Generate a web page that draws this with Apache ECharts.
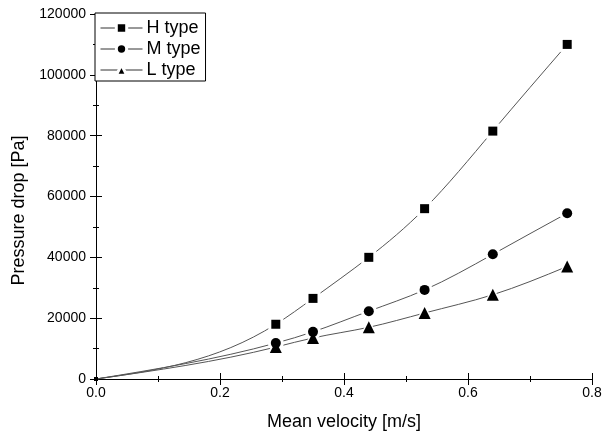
<!DOCTYPE html>
<html><head><meta charset="utf-8">
<script src="https://cdn.jsdelivr.net/npm/echarts@6/dist/echarts.min.js"></script>
<style>html,body{margin:0;padding:0;background:#fff}#c{width:614px;height:435px}</style>
</head><body><div id="c"></div>
<script>
const velocity = [0, 0.29, 0.35, 0.44, 0.53, 0.64, 0.76];
const hType = [0, 18000, 26500, 40000, 56000, 81500, 110000];
const mType = [0, 11800, 15500, 22300, 29300, 41000, 54500];
const lType = [0, 10500, 13500, 17000, 21700, 27700, 37000];
const seriesNames = ['H type', 'M type', 'L type'];
const xTicks = [0, 0.2, 0.4, 0.6, 0.8];
const yTicks = [0, 20000, 40000, 60000, 80000, 100000, 120000];

const font = 'Liberation Sans, Arial, sans-serif';

// Natural cubic spline through the data points, returned as Bezier segments in data space
function splineSegments(xs, ys){
  const n = xs.length, h = [], M = new Array(n).fill(0);
  for (let i=0;i<n-1;i++) h.push(xs[i+1]-xs[i]);
  const a=[],b=[],c=[],d=[];
  for (let i=1;i<n-1;i++){
    a.push(h[i-1]); b.push(2*(h[i-1]+h[i])); c.push(h[i]);
    d.push(6*((ys[i+1]-ys[i])/h[i]-(ys[i]-ys[i-1])/h[i-1]));
  }
  const m = b.length;
  for (let i=1;i<m;i++){ const w=a[i]/b[i-1]; b[i]-=w*c[i-1]; d[i]-=w*d[i-1]; }
  const sol = new Array(m);
  for (let i=m-1;i>=0;i--) sol[i]=(d[i]-(i<m-1?c[i]*sol[i+1]:0))/b[i];
  for (let i=0;i<m;i++) M[i+1]=sol[i];
  const segs=[];
  for (let i=0;i<n-1;i++){
    const hh=h[i], s=(ys[i+1]-ys[i])/hh;
    const d0 = s - hh*(2*M[i]+M[i+1])/6;
    const d1 = s + hh*(M[i]+2*M[i+1])/6;
    segs.push([[xs[i],ys[i]],[xs[i]+hh/3, ys[i]+d0*hh/3],[xs[i+1]-hh/3, ys[i+1]-d1*hh/3],[xs[i+1],ys[i+1]]]);
  }
  return segs;
}
function curveSeries(arr){
  const segs = splineSegments(velocity, arr);
  return {type:'custom', coordinateSystem:'cartesian2d', xAxisIndex:0, yAxisIndex:0,
    data:[[0,0]], silent:true, z:1,
    renderItem:(params, api)=>({type:'group', children: segs.map(s=>{
      const p=s.map(q=>api.coord(q));
      return {type:'bezierCurve', shape:{x1:p[0][0],y1:p[0][1],cpx1:p[1][0],cpy1:p[1][1],
        cpx2:p[2][0],cpy2:p[2][1],x2:p[3][0],y2:p[3][1]},
        style:{stroke:'#555', lineWidth:1, fill:null}};
    })})
  };
}
function haloSeries(arr, sym, size){
  return {type:'scatter', name:'_halo', data: velocity.slice(1).map((v,i)=>[v,arr[i+1]]),
    symbol:sym, symbolSize:size, itemStyle:{color:'#fff', opacity:1}, z:2, silent:true};
}
function markerSeries(name, arr, sym, size){
  return {name, type:'line', z:3,
    data: velocity.map((v,i)=> i===0 ? {value:[v,arr[i]], symbolSize:4} : {value:[v,arr[i]]}),
    symbol:sym, symbolSize:size, showSymbol:true, clip:false,
    lineStyle:{width:0, opacity:0},
    itemStyle:{color:'#000'}};
}
const chart = echarts.init(document.getElementById('c'));
const axisCommon = {
  min: 0, axisLine:{show:true, lineStyle:{color:'#000', width:1}},
  axisTick:{show:true, inside:true, length:6, lineStyle:{color:'#000'}},
  minorTick:{show:true, splitNumber:2, length:3, lineStyle:{color:'#000'}},
  splitLine:{show:false}
};
chart.setOption({
  animation:false,
  grid:{left:96, right:22, top:14, bottom:56, outerBoundsMode:'none', containLabel:false},
  legend:{
    left:95, top:13, orient:'vertical', data: seriesNames,
    itemWidth:42, itemHeight:13, itemGap:3, padding:[6,5,2,5],
    borderColor:'#000', borderWidth:1, backgroundColor:'#fff',
    lineStyle:{width:1, color:'#333', opacity:1},
    itemStyle:{borderColor:'#fff', borderWidth:3},
    textStyle:{fontFamily:font, fontSize:18, color:'#000', padding:[0,0,0,-1]}
  },
  xAxis:[
    Object.assign({}, axisCommon, {type:'value', max:0.8, interval:0.2, position:'bottom',
      name:'Mean velocity [m/s]', nameLocation:'middle', nameGap:34,
      nameTextStyle:{fontFamily:font, fontSize:18, color:'#000'},
      axisLabel:{fontFamily:font, fontSize:14, color:'#000', margin:7,
        formatter:v=>xTicks.includes(+v.toFixed(1)) ? v.toFixed(1) : ''}}),
    Object.assign({}, axisCommon, {type:'value', max:0.8, interval:0.2, position:'top',
      axisLabel:{show:false}})
  ],
  yAxis:[
    Object.assign({}, axisCommon, {type:'value', max:120000, interval:20000, position:'left',
      name:'Pressure drop [Pa]', nameLocation:'middle', nameGap:65,
      nameTextStyle:{fontFamily:font, fontSize:18, color:'#000', padding:[0,28,0,0]},
      axisLabel:{fontFamily:font, fontSize:14, color:'#000', margin:10,
        formatter:v=>yTicks.includes(v) ? String(v) : ''}}),
    Object.assign({}, axisCommon, {type:'value', max:120000, interval:20000, position:'right',
      axisLabel:{show:false}})
  ],
  series:[
    curveSeries(hType), curveSeries(mType), curveSeries(lType),
    haloSeries(hType, 'rect', 15), haloSeries(mType, 'circle', 16), haloSeries(lType, 'triangle', 18),
    markerSeries(seriesNames[0], hType, 'rect', 9),
    markerSeries(seriesNames[1], mType, 'circle', 10),
    markerSeries(seriesNames[2], lType, 'triangle', 12)
  ]
});
</script></body></html>
